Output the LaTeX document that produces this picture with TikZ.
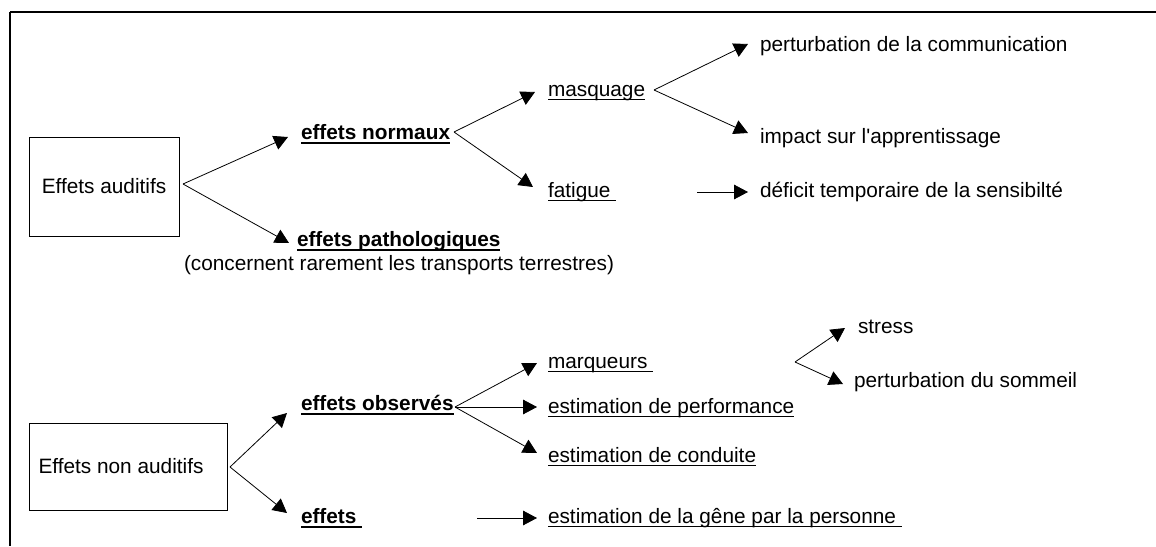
\documentclass[tikz,border=0pt]{standalone}
\usepackage{fontspec}
\setmainfont{Liberation Sans}
\usetikzlibrary{arrows.meta}
\begin{document}
\begin{tikzpicture}[x=0.75pt,y=-0.75pt,
  txt/.style={anchor=base west,inner sep=0pt,outer sep=0pt,font=\fontsize{15.6}{18}\selectfont},
  btxt/.style={txt,font=\fontsize{15.6}{18}\selectfont\bfseries},
  box/.style={draw,line width=0.75pt,inner sep=0pt,font=\fontsize{15.6}{18}\selectfont},
  arr/.style={line width=0.6pt,-{Triangle[length=10.5pt,width=11pt]}},
  frame/.style={line width=1.5pt},
  ul/.style={line width=1.4pt},
  bul/.style={line width=2.1pt}]
\useasboundingbox (0,0) rectangle (1156,546);

% open frame: top and left edges
\draw[frame] (10,12) -- (1156,12);
\draw[frame] (10,12) -- (10,546);

% ---- auditory effects ----
\node[box,minimum width=112.5pt,minimum height=74.25pt] (b1) at (104,186.5) {Effets auditifs};
\node[btxt] (nrm) at (301,139) {effets normaux};
\node[btxt] (pat) at (297,246) {effets pathologiques};
\node[txt]  (con) at (184,270) {(concernent rarement les transports terrestres)};
\node[txt]  (msq) at (548,96)  {masquage};
\node[txt]  (fat) at (548,197) {fatigue\ \mbox{}};
\node[txt]  (com) at (760,51)  {perturbation de la communication};
\node[txt]  (app) at (760,143) {impact sur l\textquotesingle apprentissage};
\node[txt]  (def) at (760,197) {déficit temporaire de la sensibilté};

\coordinate (a1) at (183,184);
\coordinate (a2) at (454,132);
\coordinate (a3) at (654,90);
\draw[arr] (a1) -- ([shift={(-13,-2)}]nrm.base west);
\draw[arr] (a1) -- ([shift={(-8,-3)}]pat.base west);
\draw[arr] (a2) -- ([shift={(-13,-4)}]msq.base west);
\draw[arr] (a2) -- ([shift={(-15,-10)}]fat.base west);
\draw[arr] (a3) -- ([shift={(-12,-7)}]com.base west);
\draw[arr] (a3) -- ([shift={(-12,-10)}]app.base west);
\draw[arr] ([shift={(81,-5)}]fat.base east) -- ([shift={(-12,-5)}]def.base west);

% ---- non-auditory effects ----
\node[box,minimum width=148.5pt,minimum height=65.25pt] (b2) at (128,466.5) {Effets non auditifs\kern10.5pt};
\node[btxt] (obs) at (301,410) {effets observés};
\node[btxt] (eff) at (301,523) {effets\ \mbox{}};
\node[txt]  (mrq) at (548,368) {marqueurs\ \mbox{}};
\node[txt]  (prf) at (548,413) {estimation de performance};
\node[txt]  (cnd) at (548,462) {estimation de conduite};
\node[txt]  (gen) at (548,523) {estimation de la gêne par la personne\ \mbox{}};
\node[txt]  (str) at (858,333) {stress};
\node[txt]  (som) at (854,387) {perturbation du sommeil};

\coordinate (a4) at (230,467);
\coordinate (a5) at (455,407);
\coordinate (a6) at (795,362);
\draw[arr] (a4) -- ([shift={(-14,3)}]obs.base west);
\draw[arr] (a4) -- ([shift={(-14,-10)}]eff.base west);
\draw[arr] (a5) -- ([shift={(-11,-5)}]mrq.base west);
\draw[arr] (a5) -- ([shift={(-11,-6)}]prf.base west);
\draw[arr] (a5) -- ([shift={(-11,-9)}]cnd.base west);
\draw[arr] ([shift={(115,-5)}]eff.base east) -- ([shift={(-11,-5)}]gen.base west);
\draw[arr] (a6) -- ([shift={(-13,-5)}]str.base west);
\draw[arr] (a6) -- ([shift={(-11,-3)}]som.base west);

% underlines
\foreach \n in {nrm,pat,obs,eff}
  \draw[bul] ([yshift=-3pt]\n.base west) -- ([yshift=-3pt]\n.base east);
\foreach \n in {msq,fat,mrq,prf,cnd,gen}
  \draw[ul] ([yshift=-2.6pt]\n.base west) -- ([yshift=-2.6pt]\n.base east);
\end{tikzpicture}
\end{document}
